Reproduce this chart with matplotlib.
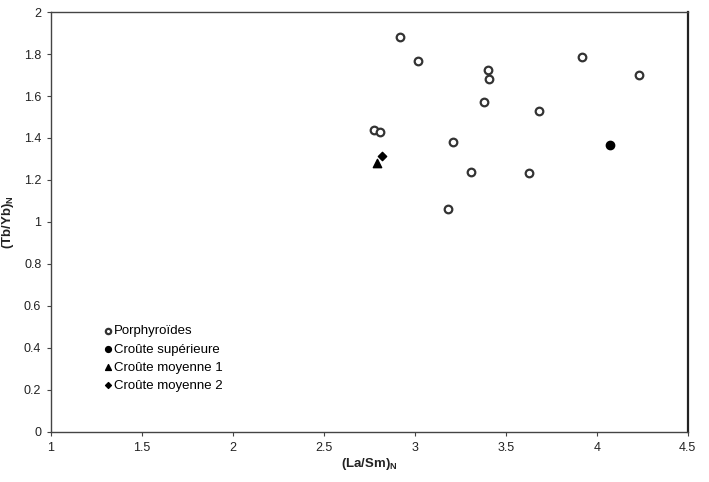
import matplotlib
matplotlib.use('Agg')
import matplotlib.pyplot as plt

plt.rcParams['font.family'] = ['Liberation Sans', 'DejaVu Sans']
plt.rcParams['mathtext.fontset'] = 'custom'
plt.rcParams['mathtext.rm'] = 'Liberation Sans'
plt.rcParams['mathtext.bf'] = 'Liberation Sans:bold'

# (La/Sm)N et (Tb/Yb)N
porph_x = [2.92, 3.015, 3.40, 3.41, 3.38, 3.685, 3.92, 4.23, 2.775, 2.81, 3.21, 3.31, 3.625, 3.18]
porph_y = [1.88, 1.765, 1.725, 1.68, 1.57, 1.53, 1.785, 1.70, 1.44, 1.43, 1.38, 1.24, 1.232, 1.062]
sup_x, sup_y = [4.07], [1.368]
moy1_x, moy1_y = [2.79], [1.282]
moy2_x, moy2_y = [2.822], [1.316]

fig = plt.figure(figsize=(7.09, 4.82), dpi=100)
ax = fig.add_axes([0.072, 0.104, 0.898, 0.871])

ax.scatter(porph_x, porph_y, s=30, facecolors='white', edgecolors='#333333', linewidths=1.6,
           label='Porphyroïdes', zorder=3)
ax.scatter(sup_x, sup_y, s=36, color='black', label='Croûte supérieure', zorder=3)
ax.scatter(moy1_x, moy1_y, s=36, marker='^', color='black', label='Croûte moyenne 1', zorder=3)
ax.scatter(moy2_x, moy2_y, s=18, marker='D', color='black', label='Croûte moyenne 2', zorder=3)

ax.set_xlim(1, 4.5)
ax.set_ylim(0, 2)
ax.set_xticks([1, 1.5, 2, 2.5, 3, 3.5, 4, 4.5])
ax.set_xticklabels(['1', '1.5', '2', '2.5', '3', '3.5', '4', '4.5'])
ax.set_yticks([0, 0.2, 0.4, 0.6, 0.8, 1, 1.2, 1.4, 1.6, 1.8, 2])
ax.set_yticklabels(['0', '0.2', '0.4', '0.6', '0.8', '1', '1.2', '1.4', '1.6', '1.8', '2'])
ax.tick_params(direction='out', length=3, width=0.8, colors='#444444', labelsize=9,
               labelcolor='#222222', pad=4)

for s in ax.spines.values():
    s.set_color('#444444')
    s.set_linewidth(1.0)
ax.spines['right'].set_linewidth(1.6)
ax.spines['right'].set_color('#222222')

ax.set_xlabel(r'$\mathbf{(La/Sm)_N}$', fontsize=9.5, color='#222222', labelpad=2)
ax.set_ylabel(r'$\mathbf{(Tb/Yb)_N}$', fontsize=9.5, color='#222222', labelpad=6)

ax.legend(loc='upper left', bbox_to_anchor=(0.07, 0.27), frameon=False, fontsize=9.5,
          handletextpad=0.0, handlelength=0.9, labelspacing=0.45, borderpad=0, markerscale=0.7)

fig.savefig('out.png', dpi=100)
